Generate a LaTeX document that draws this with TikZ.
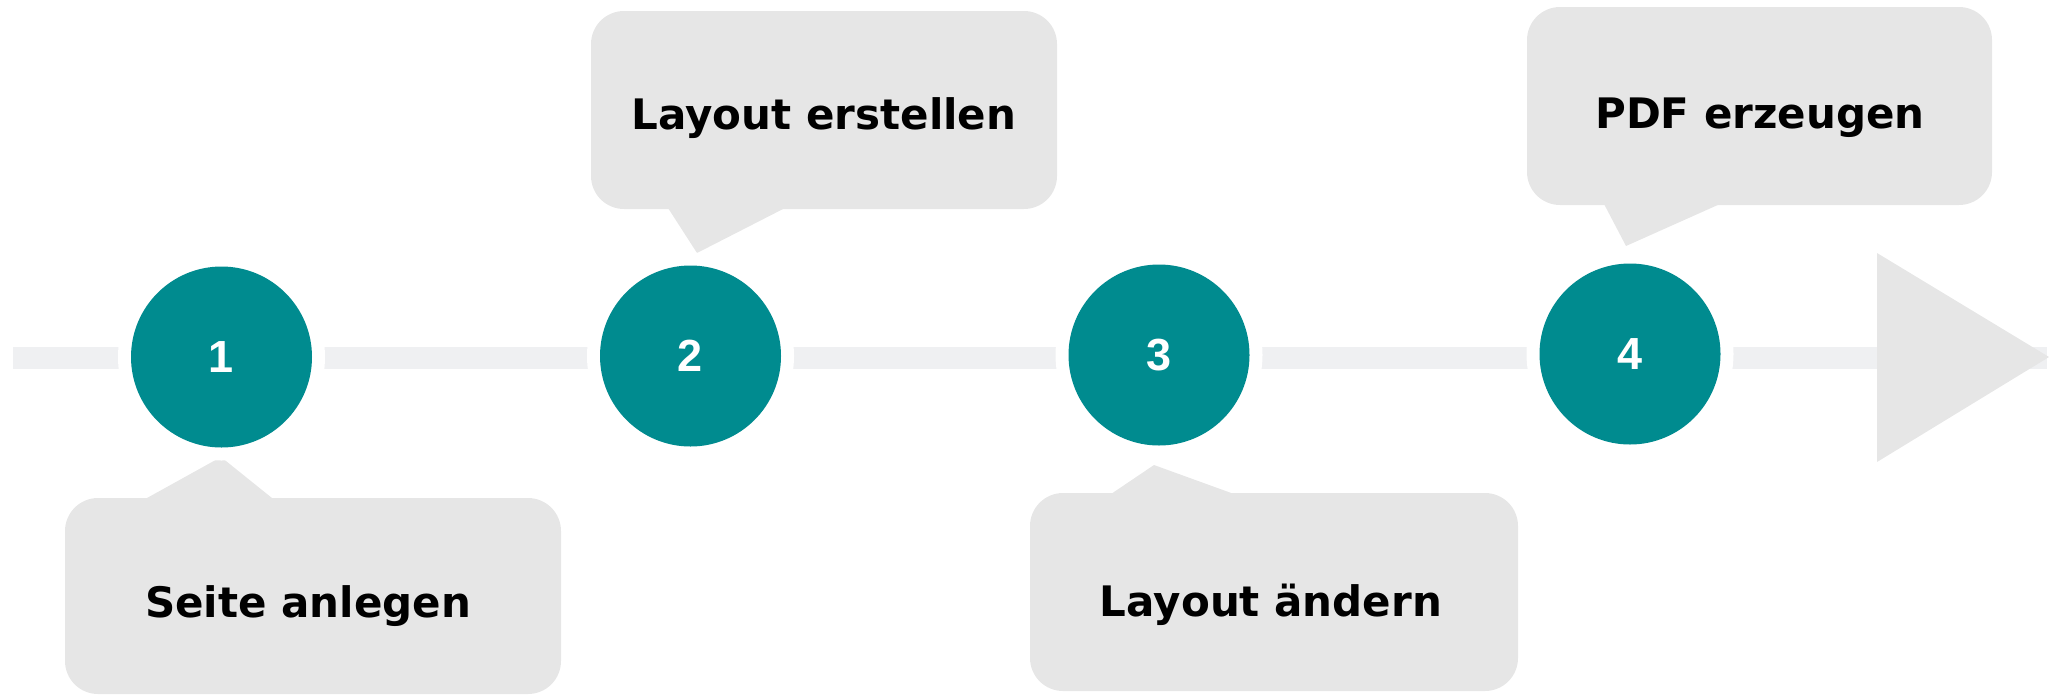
\documentclass[tikz,border=0pt]{standalone}
\usepackage{fontspec}
\setmainfont{DejaVu Sans}
\newfontfamily\digitfont{Liberation Sans}
\definecolor{tealc}{RGB}{0,139,143}
\definecolor{boxgray}{RGB}{230,230,230}
\definecolor{linegray}{RGB}{239,240,242}
\begin{document}
\begin{tikzpicture}[x=1pt,y=-1pt,
  stepcircle/.style={circle, fill=tealc, minimum size=181pt, inner sep=0pt,
    text=white, font=\digitfont\bfseries\fontsize{45}{45}\selectfont,
    preaction={draw=white, line width=26pt}},
  callout/.style={rectangle, rounded corners=33pt, fill=boxgray, inner sep=0pt},
  calltext/.style={anchor=base, inner sep=0pt, font=\bfseries\fontsize{42}{42}\selectfont},
  pointer/.style={fill=boxgray}]
\useasboundingbox (0,0) rectangle (2049,694);
% timeline
\coordinate (ls) at (13,358);
\coordinate (le) at (2047,358);
\draw[linegray, line width=22pt] (ls) -- (le);
\coordinate (ta) at (1877,253);
\coordinate (tb) at (1877,462);
\coordinate (tc) at (2049,357);
\fill[boxgray] (ta) -- (tc) -- (tb) -- cycle;
% callouts
\node[callout, minimum width=496pt, minimum height=196pt] (b1) at (313,596) {};
\coordinate (a1) at (221,457);
\fill[pointer] (147,498) -- (a1) -- (272,498) -- cycle;
\node[calltext] (t1) at (308,617) {Seite anlegen};

\node[callout, minimum width=466pt, minimum height=198pt] (b2) at (824,110) {};
\coordinate (a2) at (697,253);
\fill[pointer] (668,208) -- (a2) -- (785,208) -- cycle;
\node[calltext] (t2) at (824,129) {Layout erstellen};

\node[callout, minimum width=488pt, minimum height=198pt] (b3) at (1274,592) {};
\coordinate (a3) at (1154,465);
\fill[pointer] (1111,494) -- (a3) -- (1234,494) -- cycle;
\node[calltext] (t3) at (1271,616) {Layout ändern};

\node[callout, minimum width=465pt, minimum height=198pt] (b4) at (1759.5,106) {};
\coordinate (a4) at (1626,246);
\fill[pointer] (1604,204) -- (a4) -- (1720,204) -- cycle;
\node[calltext] (t4) at (1760,128) {PDF erzeugen};
% circles
\node[stepcircle] (c1) at (221.5,357) {\raisebox{-2pt}{1}};
\node[stepcircle] (c2) at (690.5,356) {\raisebox{-2pt}{2}};
\node[stepcircle] (c3) at (1159,355) {\raisebox{-2pt}{3}};
\node[stepcircle] (c4) at (1630,354) {\raisebox{-2pt}{4}};
\end{tikzpicture}
\end{document}
